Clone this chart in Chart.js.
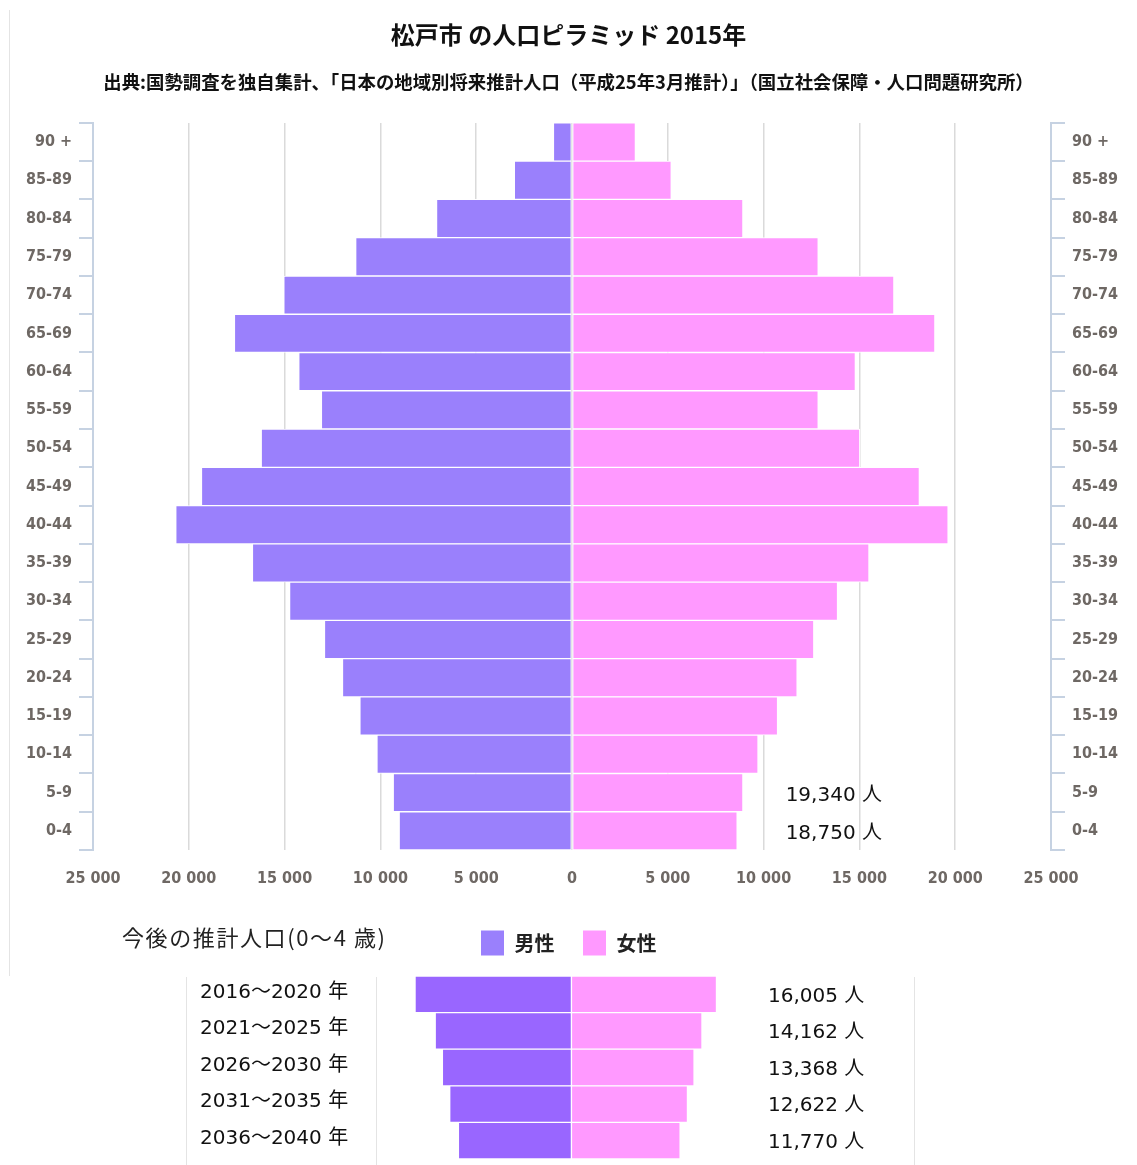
<!DOCTYPE html>
<html lang="ja">
<head>
<meta charset="utf-8">
<title>松戸市 の人口ピラミッド 2015年</title>
<script src="https://cdn.jsdelivr.net/npm/chart.js@4.4.1/dist/chart.umd.min.js"></script>
<style>
  html, body { margin: 0; padding: 0; background: #fff; }
  #wrap { position: relative; width: 1137px; height: 1165px; overflow: hidden; }
  #pyramid { position: absolute; left: 0; top: 0; }
  #future { position: absolute; left: 0; top: 976px; }
  .vline { position: absolute; width: 1px; background: #e4e4e4; }
  #futureTitle {
    position: absolute; left: 122px; top: 925px;
    font: 22px/22px 'Noto Sans CJK JP', sans-serif; letter-spacing: 1.6px; color: #222;
  }
</style>
</head>
<body>
<div id="wrap">
  <div class="vline" style="left:9px; top:10px; height:966px;"></div>
  <div class="vline" style="left:186px; top:977px; height:188px;"></div>
  <div class="vline" style="left:376px; top:977px; height:188px;"></div>
  <div class="vline" style="left:914px; top:977px; height:188px;"></div>
  <canvas id="pyramid" width="1137" height="1000"></canvas>
  <div id="futureTitle">今後の推計人口(0～4 歳)</div>
  <canvas id="future" width="1137" height="183"></canvas>
</div>
<script>
// 年齢階級（上から順）
const ageLabels = ['90 +', '85-89', '80-84', '75-79', '70-74', '65-69', '60-64', '55-59', '50-54', '45-49',
                   '40-44', '35-39', '30-34', '25-29', '20-24', '15-19', '10-14', '5-9', '0-4'];
const male   = [970, 3010, 7070, 11290, 15040, 17620, 14260, 13080, 16220, 19340,
                20680, 16680, 14740, 12920, 11980, 11070, 10180, 9330, 9020];
const female = [3310, 5180, 8920, 12850, 16800, 18940, 14790, 12850, 15020, 18130,
                19630, 15500, 13860, 12620, 11750, 10730, 9710, 8920, 8620];
const noteAges  = ['5-9', '0-4'];
const noteTexts = ['19,340 人', '18,750 人'];

// 今後の推計人口（0～4歳）
const periods      = ['2016～2020 年', '2021～2025 年', '2026～2030 年', '2031～2035 年', '2036～2040 年'];
const futureMale   = [8300, 7230, 6850, 6460, 6000];
const futureFemale = [7700, 6930, 6510, 6160, 5770];
const futureTotals = ['16,005 人', '14,162 人', '13,368 人', '12,622 人', '11,770 人'];

const NOTE_AT = 11150;           // x value where the side notes start
const AXIS_FONT = { family: "'DejaVu Sans Condensed', sans-serif", size: 16, weight: 'bold' };
const AXIS_COLOR = '#6e6864';
const LINE_COLOR = '#c6d2e2';

Chart.defaults.font.family = "'Noto Sans CJK JP', sans-serif";

function spaced(v) {
  return String(Math.abs(v)).replace(/\B(?=(\d{3})+(?!\d))/g, ' ');
}

function ageAxis(position, width) {
  return {
    type: 'category',
    position,
    labels: ageLabels,
    offset: true,
    grid: { offset: true, drawOnChartArea: false, tickLength: 14, color: LINE_COLOR, lineWidth: 2 },
    border: { color: LINE_COLOR, width: 2 },
    ticks: { padding: 7, font: AXIS_FONT, color: AXIS_COLOR },
    afterFit: (s) => { s.width = width; },
  };
}

const notePlugin = {
  id: 'notes',
  afterDatasetsDraw(chart) {
    const { ctx, scales: { x, y } } = chart;
    ctx.save();
    ctx.font = "20px 'DejaVu Sans', 'Noto Sans CJK JP'";
    ctx.fillStyle = '#111';
    ctx.textBaseline = 'middle';
    noteAges.forEach((age, i) => {
      ctx.fillText(noteTexts[i], x.getPixelForValue(NOTE_AT), y.getPixelForValue(ageLabels.indexOf(age)) + 3);
    });
    ctx.restore();
  },
};

new Chart(document.getElementById('pyramid'), {
  type: 'bar',
  data: {
    labels: ageLabels,
    datasets: [
      {
        label: '男性',
        data: male.map(v => -v),
        backgroundColor: '#9a80fc',
        borderColor: '#ffffff',
        borderWidth: 1,
        borderSkipped: false,
        barPercentage: 1,
        categoryPercentage: 1,
      },
      {
        label: '女性',
        data: female,
        backgroundColor: '#ff99ff',
        borderColor: '#ffffff',
        borderWidth: 1,
        borderSkipped: false,
        barPercentage: 1,
        categoryPercentage: 1,
      },
    ],
  },
  options: {
    indexAxis: 'y',
    responsive: false,
    animation: false,
    devicePixelRatio: 1,
    layout: { padding: { left: 0, right: 0, top: 0, bottom: 34 } },
    scales: {
      x: {
        stacked: true,
        min: -25000,
        max: 25000,
        grid: { color: '#dadada', lineWidth: 1.5, drawTicks: false },
        border: { display: false },
        ticks: {
          stepSize: 5000,
          padding: 19,
          maxRotation: 0,
          font: AXIS_FONT,
          color: AXIS_COLOR,
          callback: (v) => spaced(v),
        },
        afterFit: (s) => { s.height = 52; },
      },
      y: { ...ageAxis('left', 93), stacked: true },
      y2: ageAxis('right', 86),
    },
    plugins: {
      title: {
        display: true,
        text: '松戸市 の人口ピラミッド 2015年',
        color: '#111',
        font: { size: 24, weight: 'bold' },
        padding: { top: 20, bottom: 12 },
      },
      subtitle: {
        display: true,
        text: '出典:国勢調査を独自集計、「日本の地域別将来推計人口（平成25年3月推計）」（国立社会保障・人口問題研究所）',
        color: '#111',
        font: { size: 18.4, weight: 'bold' },
        padding: { top: 10, bottom: 30 },
      },
      legend: {
        position: 'bottom',
        labels: {
          boxWidth: 24,
          boxHeight: 26,
          padding: 28,
          color: '#222',
          font: { size: 20, weight: 'bold' },
        },
      },
      tooltip: { enabled: false },
    },
  },
  plugins: [notePlugin],
});

const futureTextPlugin = {
  id: 'futureText',
  afterDatasetsDraw(chart) {
    const { ctx, scales: { y } } = chart;
    ctx.save();
    ctx.font = "20px 'DejaVu Sans', 'Noto Sans CJK JP'";
    ctx.fillStyle = '#111';
    ctx.textBaseline = 'middle';
    periods.forEach((p, i) => {
      const cy = y.getPixelForValue(i);
      ctx.fillText(p, 200, cy - 2);
      ctx.fillText(futureTotals[i], 768, cy + 2);
    });
    ctx.restore();
  },
};

new Chart(document.getElementById('future'), {
  type: 'bar',
  data: {
    labels: periods,
    datasets: [
      {
        label: '男性',
        data: futureMale.map(v => -v),
        backgroundColor: '#9966ff',
        borderColor: '#ffffff',
        borderWidth: 1,
        borderSkipped: false,
        barPercentage: 1,
        categoryPercentage: 1,
      },
      {
        label: '女性',
        data: futureFemale,
        backgroundColor: '#ff99ff',
        borderColor: '#ffffff',
        borderWidth: 1,
        borderSkipped: false,
        barPercentage: 1,
        categoryPercentage: 1,
      },
    ],
  },
  options: {
    indexAxis: 'y',
    responsive: false,
    animation: false,
    devicePixelRatio: 1,
    layout: { padding: 0 },
    scales: {
      x: { stacked: true, display: false, min: -30330, max: 30020 },
      y: { stacked: true, display: false },
    },
    plugins: {
      legend: { display: false },
      tooltip: { enabled: false },
    },
  },
  plugins: [futureTextPlugin],
});
</script>
</body>
</html>
